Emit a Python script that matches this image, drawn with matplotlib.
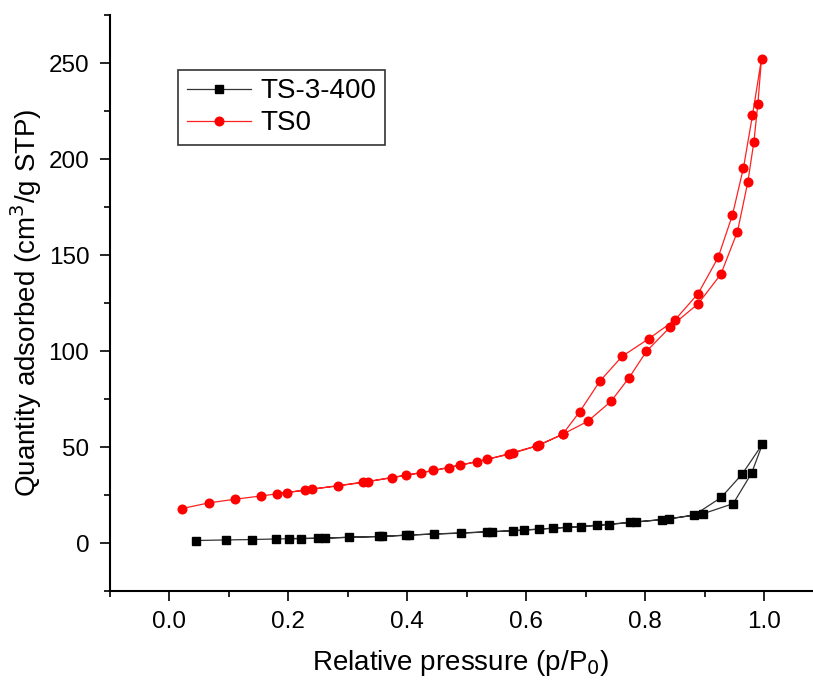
import matplotlib
matplotlib.use('Agg')
from matplotlib import pyplot as plt
from matplotlib.ticker import MultipleLocator

# TS-3-400 (black squares): adsorption then desorption branch
ts3_ads_x = [0.046, 0.0965, 0.1386, 0.180, 0.2215, 0.2623, 0.3027, 0.352, 0.4025, 0.4451,
             0.490, 0.5347, 0.5784, 0.6222, 0.6682, 0.7197, 0.7848, 0.8403, 0.8979, 0.9479,
             0.9787, 0.9971]
ts3_ads_y = [1.3, 1.6, 1.8, 2.1, 2.3, 2.5, 3.0, 3.4, 4.1, 4.7,
             5.1, 5.8, 6.3, 7.2, 8.2, 9.3, 11.0, 12.5, 15.3, 20.5,
             36.3, 51.5]
ts3_des_x = [0.9971, 0.963, 0.9277, 0.8823, 0.8285, 0.7747, 0.7389, 0.6918, 0.6452, 0.5959,
             0.5421, 0.399, 0.358, 0.2495, 0.2013]
ts3_des_y = [51.5, 35.9, 23.7, 14.5, 12.2, 10.7, 9.6, 8.4, 7.7, 6.8,
             5.9, 4.1, 3.4, 2.5, 2.3]

# TS0 (red circles)
ts0_ads_x = [0.0214, 0.0668, 0.1111, 0.1547, 0.1979, 0.2405, 0.2837, 0.3262, 0.375, 0.4227,
             0.4703, 0.5179, 0.5712, 0.6178, 0.6612, 0.7036, 0.7427, 0.7730, 0.8021, 0.8424,
             0.889, 0.9272, 0.9551, 0.9726, 0.9827, 0.9894, 0.9955]
ts0_ads_y = [17.9, 20.9, 22.8, 24.5, 26.3, 28.1, 29.7, 31.6, 34.0, 36.5,
             39.2, 42.4, 46.2, 50.5, 56.6, 63.4, 73.8, 86.1, 99.8, 112.6,
             124.6, 140.0, 162.2, 188.2, 209.0, 228.9, 252.3]
ts0_des_x = [0.9955, 0.9803, 0.9652, 0.9467, 0.9226, 0.889, 0.8498, 0.8066, 0.7612, 0.7237,
             0.6901, 0.6612, 0.6217, 0.5784, 0.5337, 0.4888, 0.4439, 0.3985, 0.3336, 0.2277,
             0.1806]
ts0_des_y = [252.3, 222.7, 195.5, 170.9, 148.7, 129.9, 116.1, 106.5, 97.2, 84.2,
             68.4, 56.6, 51.0, 47.1, 43.5, 40.6, 37.8, 35.4, 32.0, 27.5,
             25.5]

plt.rcParams['font.family'] = ['Liberation Sans', 'DejaVu Sans']

fig = plt.figure(figsize=(8.13, 6.8), dpi=100)
ax = fig.add_axes([109.5 / 813, 89 / 680, 1 - 109.5 / 813, 576 / 680])

ax.plot(ts3_ads_x + ts3_des_x[1:], ts3_ads_y + ts3_des_y[1:], color='#333333', lw=0.9,
        marker='s', ms=5.8, mfc='black', mec='black', label='TS-3-400')
ax.plot(ts0_ads_x + ts0_des_x[1:], ts0_ads_y + ts0_des_y[1:], color='#ff2020', lw=0.9,
        marker='o', ms=6.2, mfc='red', mec='red', label='TS0')

ax.set_xlim(-0.1, 1.082)
ax.set_ylim(-25, 275)
ax.xaxis.set_major_locator(MultipleLocator(0.2))
ax.xaxis.set_minor_locator(MultipleLocator(0.1))
ax.yaxis.set_major_locator(MultipleLocator(50))
ax.yaxis.set_minor_locator(MultipleLocator(25))
ax.xaxis.set_major_formatter(matplotlib.ticker.FormatStrFormatter('%.1f'))

for s in ['top', 'right']:
    ax.spines[s].set_visible(False)
for s in ['left', 'bottom']:
    ax.spines[s].set_linewidth(1.5)

ax.tick_params(which='major', direction='out', length=7.5, width=1.2, labelsize=17.5, pad=7)
ax.tick_params(which='minor', direction='out', length=4, width=1.2)

ax.set_xlabel('Relative pressure (p/P$_0$)', fontsize=20, labelpad=11)
ax.set_ylabel('Quantity adsorbed (cm$^3$/g STP)', fontsize=20, labelpad=3)

leg = ax.legend(loc='upper left', bbox_to_anchor=(178.3 / 813, 1 - 70 / 680),
                bbox_transform=fig.transFigure, fontsize=20, frameon=True, fancybox=False,
                edgecolor='#333333', framealpha=1, borderaxespad=0, borderpad=0.3,
                handlelength=2.3, handletextpad=0.35, labelspacing=0.22)
leg.get_frame().set_linewidth(1.2)

fig.savefig('out.png', dpi=100)
